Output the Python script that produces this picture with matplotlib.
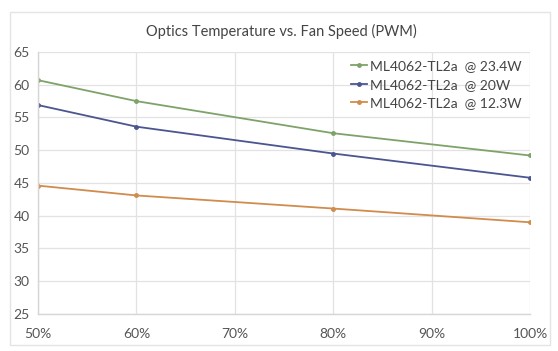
import matplotlib
matplotlib.use("Agg")
import matplotlib.pyplot as plt
from matplotlib.patches import Rectangle
from matplotlib.ticker import FuncFormatter

plt.rcParams['font.family'] = ['Lato', 'DejaVu Sans']

fan_speed = [50, 60, 80, 100]
temp_23_4w = [60.7, 57.5, 52.6, 49.2]
temp_20w = [56.9, 53.6, 49.5, 45.8]
temp_12_3w = [44.6, 43.1, 41.1, 39.0]
labels = ['ML4062-TL2a  @ 23.4W', 'ML4062-TL2a  @ 20W', 'ML4062-TL2a  @ 12.3W']
colors = ['#7ea36a', '#4b5590', '#d08c4c']
title = 'Optics Temperature vs. Fan Speed (PWM)'

fig = plt.figure(figsize=(5.58, 3.51), dpi=100)
fig.patches.append(Rectangle((10/558, 6/351), 540/558, 333/351, transform=fig.transFigure,
                             fill=False, edgecolor='#e4e4e4', linewidth=1.0))
ax = fig.add_axes([38/558, 37/351, 492/558, 262/351])

for y, lab, c in zip([temp_23_4w, temp_20w, temp_12_3w], labels, colors):
    ax.plot(fan_speed, y, color=c, linewidth=1.3, marker='o', markersize=2.5, label=lab)

ax.set_xlim(50, 100)
ax.set_ylim(25, 65)
ax.set_xticks(range(50, 101, 10))
ax.set_yticks(range(25, 66, 5))
ax.xaxis.set_major_formatter(FuncFormatter(lambda v, p: f'{int(v)}%'))
ax.grid(True, color='#e2e2e2', linewidth=0.9)
ax.set_axisbelow(True)
for s in ['top', 'right']:
    ax.spines[s].set_visible(False)
for s in ['left', 'bottom']:
    ax.spines[s].set_color('#d6d6d6')
    ax.spines[s].set_linewidth(1.0)
ax.tick_params(length=0, labelsize=10, colors='#555555', pad=6)
ax.tick_params(axis='x', pad=10)

fig.text(281/558, 1 - 31/351, title, ha='center', va='center', fontsize=10.5, color='#444444')

leg = ax.legend(loc='upper right', frameon=False, fontsize=10, handlelength=1.2,
                handletextpad=0.2, labelspacing=0.45, borderaxespad=0.2,
                bbox_to_anchor=(1.0, 1.0))
for t in leg.get_texts():
    t.set_color('#444444')

fig.savefig('out.png', dpi=100, facecolor='white')
